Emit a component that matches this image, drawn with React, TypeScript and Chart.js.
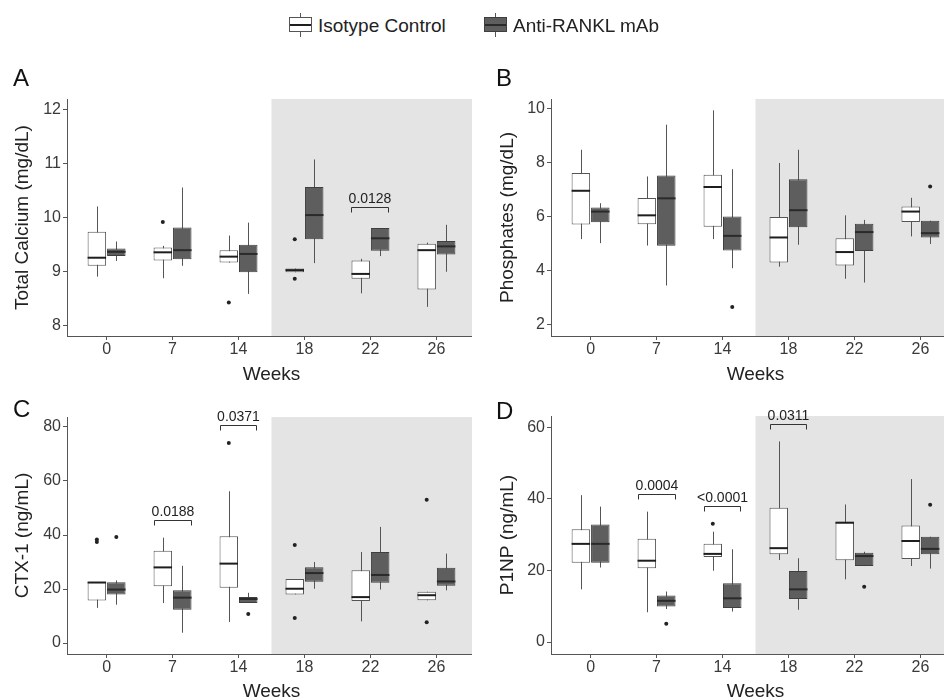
import React, { useEffect, useRef } from 'react';
import { Chart, registerables } from 'chart.js';

Chart.register(...registerables);

// ---------- data ----------
const WEEKS = ['0', '7', '14', '18', '22', '26'];

// five-number summaries per week: [lower whisker, Q1, median, Q3, upper whisker]
const CA_ISO = [
  [8.91, 9.11, 9.26, 9.74, 10.21],
  [8.88, 9.21, 9.36, 9.45, 9.48],
  [9.17, 9.17, 9.28, 9.4, 9.67],
  [8.99, 8.99, 9.03, 9.06, 9.06],
  [8.6, 8.87, 8.96, 9.21, 9.24],
  [8.35, 8.67, 9.4, 9.52, 9.54],
];
const CA_ANTI = [
  [9.2, 9.29, 9.37, 9.43, 9.56],
  [9.11, 9.23, 9.4, 9.82, 10.56],
  [8.59, 8.99, 9.33, 9.5, 9.91],
  [9.16, 9.6, 10.05, 10.57, 11.08],
  [9.29, 9.39, 9.62, 9.81, 9.81],
  [9.0, 9.32, 9.47, 9.57, 9.87],
];
const CA_ISO_OUT = [[], [9.92], [8.43], [9.6, 8.87], [], []];
const CA_ANTI_OUT = [[], [], [], [], [], []];
const CA_BRACKETS = [{ week: 4, y: 10.2, label: '0.0128' }];
const CA_TICKS = [8, 9, 10, 11, 12];

const PH_ISO = [
  [5.18, 5.72, 6.97, 7.63, 8.49],
  [4.94, 5.73, 6.06, 6.7, 7.5],
  [5.18, 5.64, 7.11, 7.56, 9.95],
  [4.16, 4.31, 5.24, 6.0, 8.0],
  [3.71, 4.2, 4.7, 5.21, 6.06],
  [5.28, 5.81, 6.2, 6.39, 6.71],
];
const PH_ANTI = [
  [5.03, 5.8, 6.2, 6.35, 6.51],
  [3.46, 4.93, 6.69, 7.54, 9.42],
  [4.1, 4.76, 5.3, 6.02, 7.77],
  [4.97, 5.62, 6.25, 7.4, 8.49],
  [3.57, 4.74, 5.44, 5.75, 5.89],
  [5.0, 5.24, 5.4, 5.86, 5.86],
];
const PH_ISO_OUT = [[], [], [], [], [], []];
const PH_ANTI_OUT = [[], [], [2.66], [], [], [7.13]];
const PH_BRACKETS: { week: number; y: number; label: string }[] = [];
const PH_TICKS = [2, 4, 6, 8, 10];

const CTX_ISO = [
  [13.0, 15.7, 22.4, 22.6, 22.6],
  [14.8, 21.0, 28.0, 34.2, 39.0],
  [7.8, 20.5, 29.4, 39.5, 56.2],
  [18.0, 18.0, 20.1, 23.7, 23.7],
  [8.0, 15.6, 17.0, 26.9, 33.7],
  [15.8, 15.8, 17.7, 19.0, 19.0],
];
const CTX_ANTI = [
  [14.2, 18.0, 19.8, 22.5, 23.2],
  [3.8, 12.3, 16.8, 19.5, 28.6],
  [14.8, 14.8, 16.3, 17.0, 18.6],
  [20.1, 22.7, 25.9, 28.1, 30.0],
  [19.8, 22.3, 25.2, 33.7, 43.0],
  [19.5, 21.2, 22.8, 27.9, 33.1],
];
const CTX_ISO_OUT = [[38.3, 37.4], [], [74.1], [36.3, 9.3], [], [53.1, 7.7]];
const CTX_ANTI_OUT = [[39.3], [], [10.7], [], [], []];
const CTX_BRACKETS = [
  { week: 1, y: 45.7, label: '0.0188' },
  { week: 2, y: 80.6, label: '0.0371' },
];
const CTX_TICKS = [0, 20, 40, 60, 80];

const P1NP_ISO = [
  [14.7, 22.1, 27.4, 31.5, 41.0],
  [8.3, 20.6, 22.7, 28.8, 36.4],
  [19.9, 23.7, 24.6, 27.4, 30.8],
  [22.9, 24.5, 26.2, 37.5, 56.0],
  [17.5, 22.8, 33.3, 33.6, 38.4],
  [21.2, 23.2, 28.2, 32.5, 45.5],
];
const P1NP_ANTI = [
  [20.8, 22.1, 27.4, 32.8, 37.8],
  [9.2, 9.9, 11.5, 13.0, 14.1],
  [8.5, 9.5, 12.2, 16.4, 25.9],
  [9.0, 12.0, 14.7, 19.8, 23.4],
  [21.2, 21.2, 24.0, 24.9, 25.2],
  [20.5, 24.5, 26.0, 29.4, 29.4],
];
const P1NP_ISO_OUT = [[], [], [33.0], [], [], []];
const P1NP_ANTI_OUT = [[], [5.1], [], [], [15.4], [38.3]];
const P1NP_BRACKETS = [
  { week: 1, y: 41.2, label: '0.0004' },
  { week: 2, y: 38.1, label: '<0.0001' },
  { week: 3, y: 60.9, label: '0.0311' },
];
const P1NP_TICKS = [0, 20, 40, 60];

// ---------- styles ----------
const FONT = '"Liberation Sans", Arial, Helvetica, sans-serif';
const SHADE = '#e4e4e4';
const AXIS = '#555555';
const TICK_TXT = '#3a3a3a';
const TITLE_TXT = '#222222';
const ISO_EDGE = '#555555';
const ANTI_FILL = '#5e5e5e';
const ANTI_EDGE = '#3f3f3f';
const WHISKER = '#555555';
const GROUP_WIDTH = 0.59;
const DODGE = GROUP_WIDTH / 4;

type Bracket = { week: number; y: number; label: string };

type Panel = {
  key: string;
  letter: string;
  yTitle: string;
  iso: number[][];
  anti: number[][];
  isoOut: number[][];
  antiOut: number[][];
  brackets: Bracket[];
  yTicks: number[];
  yMin: number;
  yMax: number;
  // layout
  left: number;
  top: number;
  clipW: number;
  canvasW: number;
  h: number;
  yAxisW: number;
  yTitlePad: number;
  padTop: number;
  xAxisH: number;
  xTitlePad: number;
  letterLeft: number;
  letterTop: number;
};

const PANELS: Panel[] = [
  {
    key: 'A', letter: 'A', yTitle: 'Total Calcium (mg/dL)',
    iso: CA_ISO, anti: CA_ANTI, isoOut: CA_ISO_OUT, antiOut: CA_ANTI_OUT,
    brackets: CA_BRACKETS, yTicks: CA_TICKS, yMin: 7.81, yMax: 12.2,
    left: 0, top: 50, clipW: 472, canvasW: 480, h: 340,
    yAxisW: 67, yTitlePad: 11.6, padTop: 49, xAxisH: 54, xTitlePad: 3.6,
    letterLeft: 13, letterTop: 66,
  },
  {
    key: 'B', letter: 'B', yTitle: 'Phosphates (mg/dL)',
    iso: PH_ISO, anti: PH_ANTI, isoOut: PH_ISO_OUT, antiOut: PH_ANTI_OUT,
    brackets: PH_BRACKETS, yTicks: PH_TICKS, yMin: 1.59, yMax: 10.37,
    left: 472, top: 50, clipW: 472, canvasW: 492, h: 340,
    yAxisW: 79, yTitlePad: 24.1, padTop: 49, xAxisH: 54, xTitlePad: 3.6,
    letterLeft: 496, letterTop: 66,
  },
  {
    key: 'C', letter: 'C', yTitle: 'CTX-1 (ng/mL)',
    iso: CTX_ISO, anti: CTX_ANTI, isoOut: CTX_ISO_OUT, antiOut: CTX_ANTI_OUT,
    brackets: CTX_BRACKETS, yTicks: CTX_TICKS, yMin: -4.07, yMax: 83.7,
    left: 0, top: 380, clipW: 472, canvasW: 480, h: 330,
    yAxisW: 67, yTitlePad: 11.6, padTop: 37, xAxisH: 56, xTitlePad: 6.6,
    letterLeft: 13, letterTop: 397,
  },
  {
    key: 'D', letter: 'D', yTitle: 'P1NP (ng/mL)',
    iso: P1NP_ISO, anti: P1NP_ANTI, isoOut: P1NP_ISO_OUT, antiOut: P1NP_ANTI_OUT,
    brackets: P1NP_BRACKETS, yTicks: P1NP_TICKS, yMin: -3.35, yMax: 63.1,
    left: 472, top: 380, clipW: 472, canvasW: 492, h: 330,
    yAxisW: 79, yTitlePad: 24.1, padTop: 36, xAxisH: 56, xTitlePad: 6.6,
    letterLeft: 496, letterTop: 399,
  },
];

function decorPlugin(stats: number[][][], brackets: Bracket[], shadeFrom: number) {
  return {
    id: 'boxDecor',
    beforeDraw(chart: any) {
      const { ctx, chartArea: ca } = chart;
      const x0 = chart.scales.x.getPixelForValue(shadeFrom);
      ctx.save();
      ctx.fillStyle = SHADE;
      ctx.fillRect(x0, ca.top, ca.right - x0, ca.bottom - ca.top);
      ctx.restore();
    },
    beforeDatasetsDraw(chart: any) {
      const { ctx } = chart;
      const y = chart.scales.y;
      stats.forEach((group, d) => {
        const meta = chart.getDatasetMeta(d);
        meta.data.forEach((el: any, i: number) => {
          const s = group[i];
          const px = Math.round(el.x) + 0.5;
          ctx.save();
          ctx.strokeStyle = WHISKER;
          ctx.lineWidth = 1;
          ctx.beginPath();
          ctx.moveTo(px, y.getPixelForValue(s[0]));
          ctx.lineTo(px, y.getPixelForValue(s[4]));
          ctx.stroke();
          ctx.restore();
        });
      });
    },
    afterDatasetsDraw(chart: any) {
      const { ctx } = chart;
      const y = chart.scales.y;
      stats.forEach((group, d) => {
        const meta = chart.getDatasetMeta(d);
        meta.data.forEach((el: any, i: number) => {
          const s = group[i];
          const py = y.getPixelForValue(s[2]);
          ctx.save();
          ctx.strokeStyle = d === 0 ? '#1e1e1e' : '#2a2a2a';
          ctx.lineWidth = 2;
          ctx.beginPath();
          ctx.moveTo(el.x - el.width / 2, py);
          ctx.lineTo(el.x + el.width / 2, py);
          ctx.stroke();
          ctx.restore();
        });
      });
    },
    afterDraw(chart: any) {
      const { ctx } = chart;
      const y = chart.scales.y;
      const isoMeta = chart.getDatasetMeta(0);
      const antiMeta = chart.getDatasetMeta(1);
      brackets.forEach((b) => {
        const e1: any = isoMeta.data[b.week];
        const e2: any = antiMeta.data[b.week];
        const x1 = Math.round(e1.x - e1.width / 2) + 0.5;
        const x2 = Math.round(e2.x + e2.width / 2) - 0.5;
        const py = Math.round(y.getPixelForValue(b.y)) + 0.5;
        ctx.save();
        ctx.strokeStyle = '#333333';
        ctx.lineWidth = 1;
        ctx.beginPath();
        ctx.moveTo(x1, py + 5);
        ctx.lineTo(x1, py);
        ctx.lineTo(x2, py);
        ctx.lineTo(x2, py + 5);
        ctx.stroke();
        ctx.fillStyle = '#222222';
        ctx.font = `14px ${FONT}`;
        ctx.textAlign = 'center';
        ctx.textBaseline = 'alphabetic';
        ctx.fillText(b.label, (x1 + x2) / 2, py - 5);
        ctx.restore();
      });
    },
  };
}

function buildConfig(p: Panel): any {
  const xMax = 5.6;
  return {
    type: 'bar',
    data: {
      datasets: [
        {
          type: 'bar',
          label: 'Isotype Control',
          data: p.iso.map((s, i) => ({ x: i, y: [s[1], s[3]] })),
          backgroundColor: '#ffffff',
          borderColor: ISO_EDGE,
          borderWidth: 1,
          borderSkipped: false,
          inflateAmount: 0,
          categoryPercentage: GROUP_WIDTH,
          barPercentage: 0.95,
        },
        {
          type: 'bar',
          label: 'Anti-RANKL mAb',
          data: p.anti.map((s, i) => ({ x: i, y: [s[1], s[3]] })),
          backgroundColor: ANTI_FILL,
          borderColor: ANTI_EDGE,
          borderWidth: 1,
          borderSkipped: false,
          inflateAmount: 0,
          categoryPercentage: GROUP_WIDTH,
          barPercentage: 0.95,
        },
        {
          type: 'scatter',
          label: 'iso outliers',
          data: p.isoOut.flatMap((vals, i) => vals.map((v) => ({ x: i - DODGE, y: v }))),
          pointRadius: 2,
          pointBackgroundColor: '#222222',
          pointBorderWidth: 0,
        },
        {
          type: 'scatter',
          label: 'anti outliers',
          data: p.antiOut.flatMap((vals, i) => vals.map((v) => ({ x: i + DODGE, y: v }))),
          pointRadius: 2,
          pointBackgroundColor: '#222222',
          pointBorderWidth: 0,
        },
      ],
    },
    options: {
      responsive: false,
      animation: false,
      events: [],
      layout: { padding: { top: p.padTop, left: 0, right: 0, bottom: 0 } },
      plugins: { legend: { display: false }, tooltip: { enabled: false } },
      scales: {
        x: {
          type: 'linear',
          min: -0.6,
          max: xMax,
          offset: false,
          bounds: 'data',
          afterBuildTicks: (axis: any) => {
            axis.ticks = WEEKS.map((_, i) => ({ value: i }));
          },
          afterFit: (scale: any) => {
            scale.height = p.xAxisH;
          },
          ticks: {
            callback: (v: number) => WEEKS[Math.round(v)],
            color: TICK_TXT,
            font: { family: FONT, size: 16 },
            padding: 0,
            maxRotation: 0,
            autoSkip: false,
          },
          grid: { display: true, drawOnChartArea: false, drawTicks: true, tickLength: 4, color: AXIS, offset: false },
          border: { display: true, color: AXIS, width: 1 },
          title: {
            display: true,
            text: 'Weeks',
            color: TITLE_TXT,
            font: { family: FONT, size: 19 },
            padding: { top: 0, bottom: p.xTitlePad },
          },
        },
        y: {
          type: 'linear',
          min: p.yMin,
          max: p.yMax,
          bounds: 'data',
          beginAtZero: false,
          afterBuildTicks: (axis: any) => {
            axis.ticks = p.yTicks.map((v) => ({ value: v }));
          },
          afterFit: (scale: any) => {
            scale.width = p.yAxisW;
          },
          ticks: {
            color: TICK_TXT,
            font: { family: FONT, size: 16 },
            padding: 2,
            callback: (v: number) => String(v),
          },
          grid: { display: true, drawOnChartArea: false, drawTicks: true, tickLength: 4, color: AXIS },
          border: { display: true, color: AXIS, width: 1 },
          title: {
            display: true,
            text: p.yTitle,
            color: TITLE_TXT,
            font: { family: FONT, size: 19 },
            padding: { top: p.yTitlePad, bottom: 0 },
          },
        },
      },
    },
    plugins: [decorPlugin([p.iso, p.anti], p.brackets, 2.5)],
  };
}

function PanelChart({ p }: { p: Panel }) {
  const ref = useRef<HTMLCanvasElement | null>(null);
  useEffect(() => {
    if (!ref.current) return;
    const chart = new Chart(ref.current, buildConfig(p));
    return () => chart.destroy();
  }, [p]);
  return (
    <div
      style={{
        position: 'absolute',
        left: p.left,
        top: p.top,
        width: p.clipW,
        height: p.h,
        overflow: 'hidden',
      }}
    >
      <canvas
        ref={ref}
        width={p.canvasW}
        height={p.h}
        style={{ display: 'block', width: p.canvasW, height: p.h }}
      />
    </div>
  );
}

function LegendIcon({ left, fill, edge, median }: { left: number; fill: string; edge: string; median: string }) {
  return (
    <div style={{ position: 'absolute', left, top: 13, width: 23, height: 24 }}>
      <div style={{ position: 'absolute', left: 11, top: 0, width: 1, height: 24, background: WHISKER }} />
      <div
        style={{
          position: 'absolute',
          left: 0,
          top: 4,
          width: 23,
          height: 15,
          boxSizing: 'border-box',
          background: fill,
          border: `1px solid ${edge}`,
        }}
      />
      <div style={{ position: 'absolute', left: 1, top: 11, width: 21, height: 2, background: median }} />
    </div>
  );
}

export default function App() {
  const textStyle: React.CSSProperties = {
    position: 'absolute',
    fontFamily: FONT,
    fontSize: 19,
    lineHeight: '19px',
    color: TITLE_TXT,
    whiteSpace: 'nowrap',
  };
  return (
    <div
      style={{
        position: 'absolute',
        left: 0,
        top: 0,
        width: 944,
        height: 700,
        overflow: 'hidden',
        background: '#ffffff',
        fontFamily: FONT,
      }}
    >
      {PANELS.map((p) => (
        <PanelChart key={p.key} p={p} />
      ))}
      {PANELS.map((p) => (
        <div
          key={'L' + p.key}
          style={{
            position: 'absolute',
            left: p.letterLeft,
            top: p.letterTop,
            fontFamily: FONT,
            fontSize: 24,
            lineHeight: '24px',
            color: '#111111',
          }}
        >
          {p.letter}
        </div>
      ))}
      <LegendIcon left={289} fill="#ffffff" edge={ISO_EDGE} median="#1e1e1e" />
      <div style={{ ...textStyle, left: 318, top: 16 }}>Isotype Control</div>
      <LegendIcon left={484} fill={ANTI_FILL} edge={ANTI_EDGE} median="#2a2a2a" />
      <div style={{ ...textStyle, left: 513, top: 16 }}>Anti-RANKL mAb</div>
    </div>
  );
}
